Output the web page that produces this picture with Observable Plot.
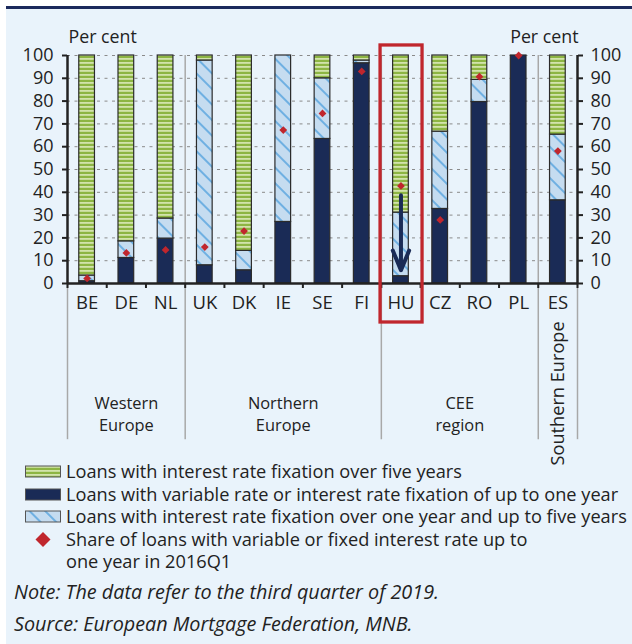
<!DOCTYPE html>
<html><head><meta charset="utf-8">
<script src="https://cdn.jsdelivr.net/npm/d3@7"></script>
<script src="https://cdn.jsdelivr.net/npm/@observablehq/plot@0.6"></script>
<style>
body{margin:0;background:#fff;font-family:"Open Sans",sans-serif;color:#222;}
#page{position:relative;width:632px;height:644px;overflow:hidden;}
#bg{position:absolute;left:6px;top:6px;right:0;bottom:0;background:#e9f3fb;border-top:3px solid #1b2a5c;}
#chart{position:absolute;left:0;top:0;}
.leg{position:absolute;left:0;font-size:18.2px;line-height:22px;}
.leg svg{position:absolute;left:25px;}
.leg span{position:absolute;left:66px;white-space:nowrap;}
.note{position:absolute;left:14px;font-style:italic;font-size:19.8px;line-height:24px;white-space:nowrap;}
</style></head>
<body><div id="page"><div id="bg"></div><div id="chart"></div><div id="legend"></div>
<div class="note" style="top:580px">Note: The data refer to the third quarter of 2019.</div>
<div class="note" style="top:612px">Source: European Mortgage Federation, MNB.</div>
</div>
<script>
const countries = ["BE","DE","NL","UK","DK","IE","SE","FI","HU","CZ","RO","PL","ES"];
const variableRate = [1, 11.2, 19.7, 8, 5.8, 27, 63.4, 96.6, 3.2, 32.7, 79.6, 100, 36.5];
const fixOneToFive = [2.5, 7.3, 8.8, 89.8, 8.5, 73, 26.6, 1.2, 27.9, 33.9, 9.7, 0, 28.8];
const fixOverFive = [96.5, 81.5, 71.5, 2.2, 85.7, 0, 10, 2.2, 68.9, 33.4, 10.7, 0, 34.7];
const share2016Q1 = [2.2, 13.4, 14.7, 16, 23, 67.3, 74.6, 93, 42.8, 27.9, 90.7, 100, 58.1];
const yTicks = [0,10,20,30,40,50,60,70,80,90,100];
const groupNames = ["Western\nEurope","Northern\nEurope","CEE\nregion"];
const groupStart = [0, 3, 8];
const groupEnd = [3, 8, 12];
const rotatedGroup = "Southern Europe";
const highlight = "HU";
const hungaryArrow = [38.7, 5.8];
const legendLabels = [
  "Loans with interest rate fixation over five years",
  "Loans with variable rate or interest rate fixation of up to one year",
  "Loans with interest rate fixation over one year and up to five years",
  "Share of loans with variable or fixed interest rate up to\none year in 2016Q1"
];

const navy = "#1a2b56", red = "#c0262d";
const fills = {v: navy, m: "url(#pBlue)", l: "url(#pGreen)"};

const segments = [];
countries.forEach((c, i) => {
  let base = 0;
  [["v", variableRate[i]], ["m", fixOneToFive[i]], ["l", fixOverFive[i]]].forEach(([k, val]) => {
    if (val > 0) segments.push({i, k, y1: base, y2: base + val});
    base += val;
  });
});
const points = countries.map((c, i) => ({i, v: share2016Q1[i]}));
const groups = groupNames.map((n, j) => ({n, mid: (groupStart[j] + groupEnd[j]) / 2}));
const hi = countries.indexOf(highlight);
const lowY = -68.5;

const plot = Plot.plot({
  width: 632, height: 470,
  marginTop: 55, marginBottom: 187, marginLeft: 67, marginRight: 55,
  x: {type: "linear", domain: [0, countries.length]},
  y: {domain: [0, 100]},
  style: {fontFamily: "Open Sans", fontSize: "18px", color: "#222", background: "transparent", overflow: "visible"},
  marks: [
    Plot.gridY(yTicks.filter(d => d > 0), {stroke: "#8a8a8a", strokeOpacity: 1, strokeDasharray: "3,4.5"}),
    Plot.ruleX([...groupStart.slice(1), groupEnd[groupEnd.length - 1]], {y1: 100, y2: lowY, stroke: "#a8a8a8", strokeWidth: 1.5}),
    Plot.ruleX([0, countries.length], {y1: 0, y2: lowY, stroke: "#a8a8a8", strokeWidth: 1.5}),
    Plot.rect(segments, {x1: d => d.i + 0.3, x2: d => d.i + 0.7, y1: "y1", y2: "y2", fill: d => fills[d.k], stroke: "#2b2b2b", strokeWidth: 1.2}),
    Plot.arrow([hi], {x1: d => d + 0.5, x2: d => d + 0.5, y1: hungaryArrow[0], y2: hungaryArrow[1], stroke: navy, strokeWidth: 4, headLength: 8, headAngle: 45}),
    Plot.dot(points, {x: d => d.i + 0.5, y: "v", symbol: "diamond2", r: 3.5, fill: red, stroke: "none"}),
    Plot.ruleX([0, countries.length], {y1: 0, y2: 100, stroke: "#222", strokeWidth: 2.5}),
    Plot.ruleY([0], {stroke: "#222", strokeWidth: 2.5}),
    Plot.axisY({anchor: "left", ticks: yTicks, tickSize: 5, tickPadding: 9, fontSize: 18, label: null, strokeWidth: 2}),
    Plot.axisY({anchor: "right", ticks: yTicks, tickSize: 5, tickPadding: 8, fontSize: 18, label: null, strokeWidth: 2}),
    Plot.axisX({ticks: d3.range(0, countries.length + 1), tickFormat: () => "", tickSize: 5, label: null, strokeWidth: 2}),
    Plot.axisX({ticks: countries.map((c, i) => i + 0.5), tickFormat: v => countries[Math.floor(v)], tickSize: 0, tickPadding: 12, fontSize: 18.5, label: null}),
    Plot.text(groups, {x: "mid", y: -56.8, text: "n", lineHeight: 1.37, fontSize: 16.4}),
    Plot.text([rotatedGroup], {x: countries.length - 0.5, y: -48.2, text: d => d, rotate: -90, fontSize: 18.2}),
    Plot.text(["Per cent"], {frameAnchor: "top-left", textAnchor: "start", lineAnchor: "middle", dx: 1, dy: -18, fontSize: 17.8}),
    Plot.text(["Per cent"], {frameAnchor: "top-right", textAnchor: "end", lineAnchor: "middle", dx: 1, dy: -18, fontSize: 17.8}),
    Plot.rect([hi], {x1: d => d - 0.02, x2: d => d + 1.05, y1: -17.1, y2: 104.4, fill: "none", stroke: red, strokeWidth: 3.3})
  ]
});

const defs = d3.select(plot).insert("defs", ":first-child");
const pg = defs.append("pattern").attr("id", "pGreen").attr("patternUnits", "userSpaceOnUse").attr("width", 4).attr("height", 4);
pg.append("rect").attr("width", 4).attr("height", 4).attr("fill", "#8db543");
pg.append("rect").attr("y", 2).attr("width", 4).attr("height", 1.8).attr("fill", "#d2e3ab");
const pb = defs.append("pattern").attr("id", "pBlue").attr("patternUnits", "userSpaceOnUse").attr("width", 11).attr("height", 11).attr("patternTransform", "rotate(45)");
pb.append("rect").attr("width", 11).attr("height", 11).attr("fill", "#c5dcf0");
pb.append("rect").attr("width", 11).attr("height", 2).attr("fill", "#6fb0e2");
document.getElementById("chart").appendChild(plot);

const legend = d3.select("#legend");
const legTops = [460, 483, 505, 528];
const legFills = [fills.l, fills.v, fills.m, null];
legendLabels.forEach((lab, j) => {
  const row = legend.append("div").attr("class", "leg").style("top", legTops[j] + "px");
  const s = row.append("svg").attr("width", 40).attr("height", 22);
  if (legFills[j]) {
    s.style("top", "0px");
    s.append("rect").attr("x", 0.5).attr("y", 6).attr("width", 35).attr("height", 11).attr("fill", legFills[j]).attr("stroke", "#555").attr("stroke-width", 1);
  } else {
    s.append("path").attr("d", "M18,4 L25.5,11.5 L18,19 L10.5,11.5 Z").attr("fill", red);
  }
  row.append("span").html(lab.replace("\n", "<br>"));
});
</script></body></html>
